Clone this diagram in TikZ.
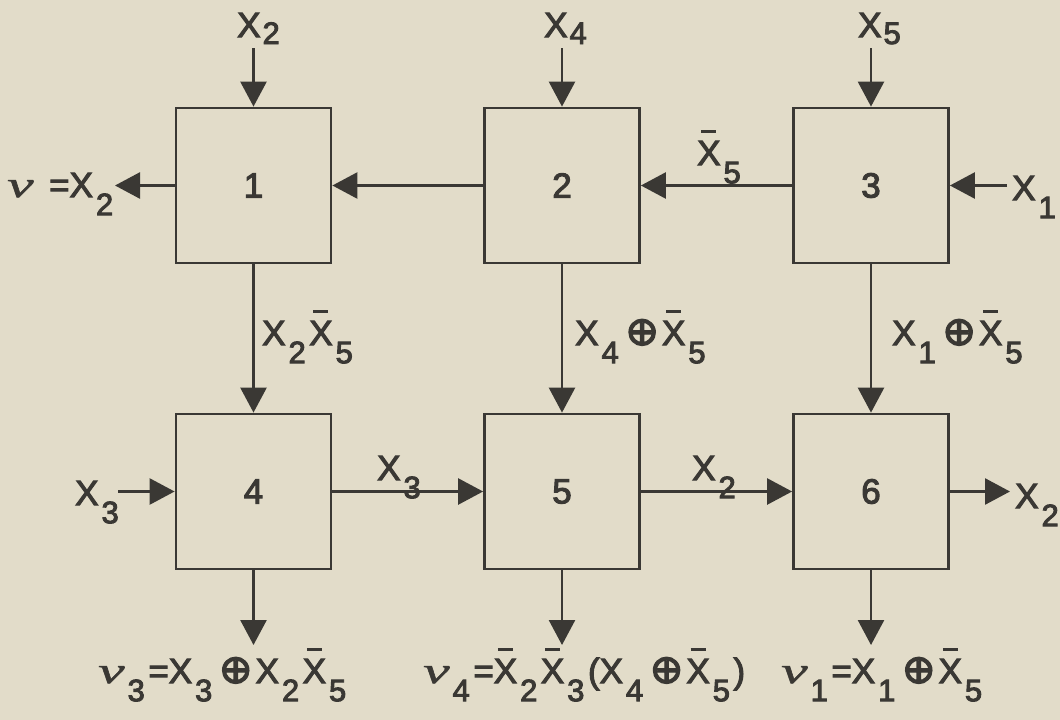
\documentclass[tikz,border=0pt]{standalone}
\usepackage{fontspec}
\usepackage{graphicx}
\setmainfont[FakeBold=3]{Liberation Sans}
\newfontfamily\gkfont[FakeBold=1]{Liberation Serif}
\newfontfamily\dvfont[FakeBold=3]{DejaVu Sans}
\usetikzlibrary{arrows.meta}
\definecolor{paper}{RGB}{226,220,201}
\definecolor{ink}{RGB}{58,56,52}
\newcommand\subf{\fontsize{31}{31}\selectfont}
\newcommand\sB[1]{\kern3pt\raisebox{-0.52em}{\subf #1}\kern3.5pt}
\newcommand\sT[1]{\kern2pt\raisebox{-0.2em}{\subf #1}}
\newsavebox\xbox
\newcommand\Xb{\sbox\xbox{X}\makebox[0pt][l]{\makebox[\wd\xbox]{\raisebox{\dimexpr\ht\xbox+8pt\relax}{\rule{15pt}{3pt}}}}\usebox\xbox}
\newcommand\X[1]{X\sB{#1}}
\newcommand\XB[1]{\Xb\sB{#1}}
\newcommand\op{\kern3pt{\dvfont\scalebox{1.15}{⊕}}\kern3pt}
\newcommand\nuu{{\gkfont\itshape\scalebox{1.7}[1.05]{ν}}}
\tikzset{
  blk/.style={draw=ink, line width=2.8pt, minimum width=155pt, minimum height=155pt, inner sep=0pt, font=\fontsize{35}{40}\selectfont, text=ink},
  conn/.style={draw=ink, line width=2.6pt, -{Triangle[length=25pt,width=26pt]}},
  lbl/.style={inner sep=0pt, anchor=base west, font=\fontsize{35}{40}\selectfont, text=ink},
}
\begin{document}
\begin{tikzpicture}[x=1pt,y=-1pt]
\fill[paper] (0,0) rectangle (1060,720);
\useasboundingbox (0,0) rectangle (1060,720);
% boxes
\node[blk] (b1) at (253.5,185.5) {1};
\node[blk] (b2) at (562,185.5) {2};
\node[blk] (b3) at (871,185.5) {3};
\node[blk] (b4) at (253.5,491.5) {4};
\node[blk] (b5) at (562,491.5) {5};
\node[blk] (b6) at (871,491.5) {6};
% free ends
\coordinate (t1) at (253.5,48);
\coordinate (t2) at (562,48);
\coordinate (t3) at (871,48);
\coordinate (o1) at (115,185.5);
\coordinate (i1) at (1007,185.5);
\coordinate (i3) at (118,491.5);
\coordinate (o2) at (1010,491.5);
\coordinate (d4) at (253.5,645);
\coordinate (d5) at (562,645);
\coordinate (d6) at (871,645);
% connectors
\draw[conn] (t1) -- (b1.north);
\draw[conn] (t2) -- (b2.north);
\draw[conn] (t3) -- (b3.north);
\draw[conn] (b3.west) -- (b2.east);
\draw[conn] (b2.west) -- (b1.east);
\draw[conn] (b1.west) -- (o1);
\draw[conn] (i1) -- (b3.east);
\draw[conn] (b1.south) -- (b4.north);
\draw[conn] (b2.south) -- (b5.north);
\draw[conn] (b3.south) -- (b6.north);
\draw[conn] (i3) -- (b4.west);
\draw[conn] (b4.east) -- (b5.west);
\draw[conn] (b5.east) -- (b6.west);
\draw[conn] (b6.east) -- (o2);
\draw[conn] (b4.south) -- (d4);
\draw[conn] (b5.south) -- (d5);
\draw[conn] (b6.south) -- (d6);
% labels
\node[lbl] (lt1) at (237,37) {X\sT{2}};
\node[lbl] (lt2) at (544,37) {X\sT{4}};
\node[lbl] (lt3) at (858,37) {X\sT{5}};
\node[lbl] (lo1) at (7,197) {\nuu\ \,=\X{2}};
\node[lbl] (l23) at (697,165) {\XB{5}};
\node[lbl] (li1) at (1012,200) {\X{1}};
\node[lbl] (l14) at (262,345) {\X{2}\XB{5}};
\node[lbl] (l25) at (575,345) {\X{4}\op\XB{5}};
\node[lbl] (l36) at (892,345) {\X{1}\op\XB{5}};
\node[lbl] (li3) at (75,505) {\X{3}};
\node[lbl] (l45) at (377,480) {\X{3}};
\node[lbl] (l56) at (692,480) {\X{2}};
\node[lbl] (lo2) at (1015,508) {\X{2}};
\node[lbl] (r3) at (98,683) {\nuu\sB{3}=\X{3}\op\X{2}\XB{5}};
\node[lbl] (r4) at (423,683) {\nuu\sB{4}=\XB{2}\XB{3}(\X{4}\op\XB{5})};
\node[lbl] (r1) at (781,683) {\nuu\sB{1}=\X{1}\op\XB{5}};
\end{tikzpicture}
\end{document}
